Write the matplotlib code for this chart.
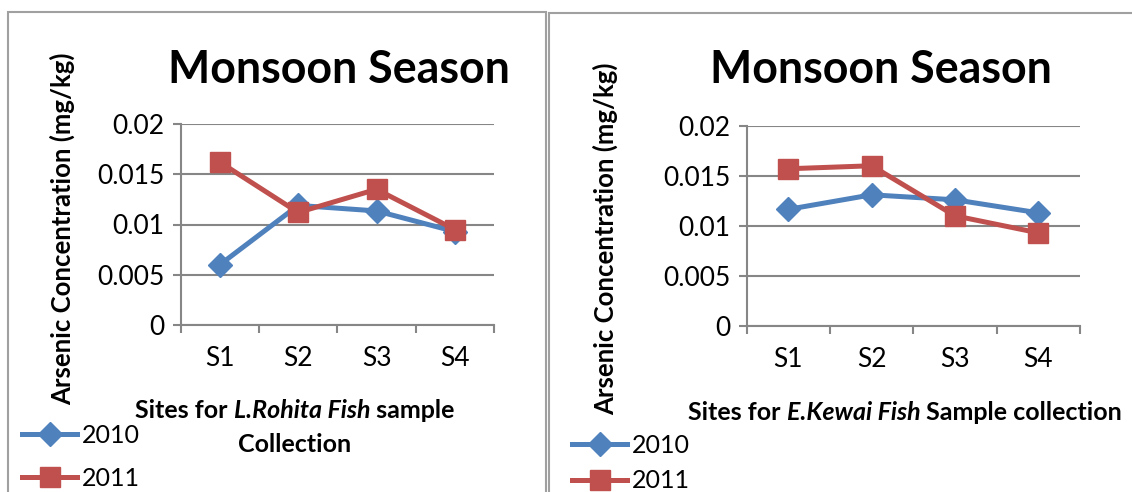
import matplotlib
matplotlib.use("Agg")
import matplotlib.pyplot as plt
from matplotlib.patches import Rectangle

plt.rcParams["font.family"] = ["Lato", "DejaVu Sans"]

sites = ["S1", "S2", "S3", "S4"]
years = ["2010", "2011"]

# L. Rohita (left panel)
rohita_2010 = [0.0060, 0.0119, 0.01135, 0.0093]
rohita_2011 = [0.0162, 0.0112, 0.0135, 0.0095]

# E. Kewai (right panel)
kewai_2010 = [0.01165, 0.0131, 0.0126, 0.0113]
kewai_2011 = [0.0157, 0.0160, 0.0110, 0.0093]

yticks = [0, 0.005, 0.01, 0.015, 0.02]
ytick_labels = ["0", "0.005", "0.01", "0.015", "0.02"]

blue = "#4F81BD"
red = "#C0504D"
grid_c = "#868686"

W, H = 1132, 492
fig = plt.figure(figsize=(W / 100, H / 100), dpi=100)


def fx(px):
    return px / W


def fy(py):
    return 1 - py / H


def panel(rect, s2010, s2011, title_x, ylab_x, ylab_y):
    """one chart panel"""
    ax = fig.add_axes(rect)
    xs = [i + 0.5 for i in range(len(sites))]
    l1, = ax.plot(xs, s2010, color=blue, lw=3.6, marker="D", ms=12, label=years[0])
    l2, = ax.plot(xs, s2011, color=red, lw=3.6, marker="s", ms=14, label=years[1])
    ax.set_xlim(0, 4)
    ax.set_ylim(0, 0.02)
    ax.set_yticks(yticks)
    ax.set_yticklabels(ytick_labels)
    ax.set_xticks(range(5))
    ax.set_xticklabels([""] * 5)
    ax.set_xticks(xs, minor=True)
    ax.set_xticklabels(sites, minor=True)
    ax.tick_params(axis="x", which="minor", length=0, pad=15, labelsize=19)
    ax.tick_params(axis="x", which="major", length=6, width=1.5, color=grid_c)
    ax.tick_params(axis="y", length=6, width=1.5, color=grid_c, pad=6, labelsize=19)
    for s in ["top", "right"]:
        ax.spines[s].set_visible(False)
    for s in ["left", "bottom"]:
        ax.spines[s].set_color(grid_c)
        ax.spines[s].set_linewidth(1.5)
    ax.yaxis.grid(True, color=grid_c, lw=1.5)
    ax.set_axisbelow(True)
    for l in (l1, l2):
        l.set_clip_on(False)
    fig.text(fx(title_x), fy(70), "Monsoon Season", fontsize=32.2, fontweight="bold",
             ha="center", va="center")
    fig.text(fx(ylab_x), fy(ylab_y), "Arsenic Concentration (mg/kg)", fontsize=18.5,
             fontweight="bold", rotation=90, ha="center", va="center")
    return l1, l2


def mixed_text(x_px, y_px, parts, size=18):
    """a centred line made of bold and bold-italic pieces"""
    texts = [fig.text(0, fy(y_px), s, fontsize=size, fontweight="bold", style=st,
                      ha="left", va="center") for s, st in parts]
    r = fig.canvas.get_renderer()
    widths = [t.get_window_extent(r).width for t in texts]
    start = x_px - sum(widths) / 2
    for t, w in zip(texts, widths):
        t.set_x(fx(start))
        start += w


h1 = panel([fx(180.7), fy(325), fx(494 - 180.7), (325 - 124) / H],
           rohita_2010, rohita_2011, 339, 62, 229)
h2 = panel([fx(746.7), fy(326), fx(1080 - 746.7), (326 - 125.7) / H],
           kewai_2010, kewai_2011, 881, 605, 239)

mixed_text(295, 411, [("Sites for ", "normal"), ("L.Rohita Fish", "italic"),
                      (" sample", "normal")])
mixed_text(295, 445, [("Collection", "normal")])
mixed_text(905, 412, [("Sites for ", "normal"), ("E.Kewai Fish", "italic"),
                      (" Sample collection", "normal")])

fig.legend(h1, years, loc="center left", bbox_to_anchor=(fx(22), fy(457)), frameon=False,
           fontsize=18, handlelength=2.2, handletextpad=0.2, labelspacing=0.8,
           borderaxespad=0, borderpad=0)
fig.legend(h2, years, loc="center left", bbox_to_anchor=(fx(572), fy(463)), frameon=False,
           fontsize=18, handlelength=2.2, handletextpad=0.2, labelspacing=0.5,
           borderaxespad=0, borderpad=0)

# panel borders
fig.patches.append(Rectangle((fx(8), fy(500)), fx(546 - 8), (500 - 12) / H, fill=False,
                             edgecolor="#A0A0A0", lw=1.5, transform=fig.transFigure))
fig.patches.append(Rectangle((fx(549), fy(500)), fx(1140 - 549), (500 - 13) / H, fill=False,
                             edgecolor="#A0A0A0", lw=1.5, transform=fig.transFigure))

fig.savefig("out.png", dpi=100)
